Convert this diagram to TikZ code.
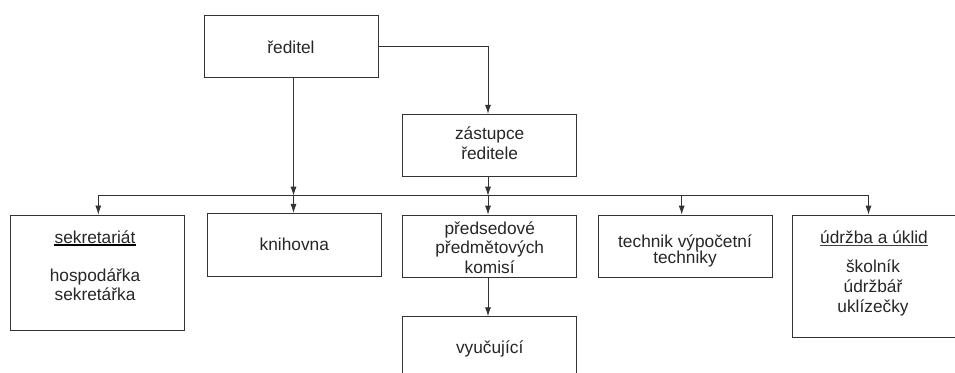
\documentclass[tikz,border=0pt]{standalone}
\usepackage{fontspec}
\setmainfont{Liberation Sans}
\usetikzlibrary{arrows.meta}
\begin{document}
\begin{tikzpicture}[x=1pt,y=-1pt,
  txt/.style={text=black!85, font=\fontsize{17.3}{19.4}\selectfont},
  box/.style={txt, draw=black!80, line width=0.8pt, minimum width=174pt, inner sep=0pt, align=center},
  lbl/.style={txt, inner sep=0pt, anchor=base},
  conn/.style={draw=black!80, line width=0.8pt},
  arr/.style={conn, -{Latex[length=9pt,width=6pt]}}]
\useasboundingbox (0,0) rectangle (955,372);
\clip (0,0) rectangle (955,372);
% boxes
\node[box, minimum height=62pt] (red) at (291,46) {};
\node[box, minimum height=62pt] (zas) at (489.7,145.2) {};
\node[box, minimum height=115.7pt] (sek) at (97.3,272.8) {};
\node[box, minimum height=62.7pt] (kni) at (294.3,244.7) {};
\node[box, minimum height=62.3pt] (pre) at (489.7,246.2) {};
\node[box, minimum height=80pt] (vyu) at (489.7,356.7) {};
\node[box, minimum height=62.3pt] (tec) at (685,246.2) {};
\node[box, minimum width=164pt, minimum height=122.3pt] (udr) at (874,276.2) {};
% texts
\node[lbl] (redA) at (291,53.3) {ředitel};
\node[lbl] (zasA) at (489.7,139.3) {zástupce};
\node[lbl] (zasB) at (489.7,159) {ředitele};
\node[lbl] (kniA) at (294.3,250) {knihovna};
\node[lbl] (preA) at (489.7,234.3) {předsedové};
\node[lbl] (preB) at (489.7,253.5) {předmětových};
\node[lbl] (preC) at (489.7,273.3) {komisí};
\node[lbl] (tecA) at (685,247) {technik výpočetní};
\node[lbl] (tecB) at (685,263.6) {techniky};
\node[lbl] (sekA) at (95,243) {sekretariát};
\node[lbl] (sekB) at (95,281) {hospodářka};
\node[lbl] (sekC) at (95,300.5) {sekretářka};
\node[lbl] (vyuA) at (489.7,353.3) {vyučující};
\node[lbl] (udrA) at (874,243.3) {údržba a úklid};
\node[lbl] (udrB) at (873,272.3) {školník};
\node[lbl] (udrC) at (873,292.5) {údržbář};
\node[lbl] (udrD) at (873,312.3) {uklízečky};
\draw[black, line width=1.5pt] ([yshift=-2.2pt]sekA.base west) -- ([yshift=-2.2pt]sekA.base east);
\draw[black!75, line width=0.8pt] ([yshift=-2pt]udrA.base west) -- ([yshift=-2pt]udrA.base east);
% bus coordinates
\coordinate (bS) at (98.3,195.7);
\coordinate (bK) at (293.5,195.7);
\coordinate (bP) at (488,195.7);
\coordinate (bT) at (681.7,195.7);
\coordinate (bU) at (868.5,195.7);
% connectors
\draw[arr] (red.east) -| (bP |- zas.north);
\draw[arr] (bK |- red.south) -- (bK);
\draw[arr] (bK) -- (bK |- kni.north);
\draw[arr] (bP |- zas.south) -- (bP);
\draw[arr] (bP) -- (bP |- pre.north);
\draw[arr] (bP |- pre.south) -- (bP |- vyu.north);
\draw[conn] (bS) -- (bU);
\draw[arr] (bS) -- (bS |- sek.north);
\draw[arr] (bT) -- (bT |- tec.north);
\draw[arr] (bU) -- (bU |- udr.north);
\end{tikzpicture}
\end{document}
